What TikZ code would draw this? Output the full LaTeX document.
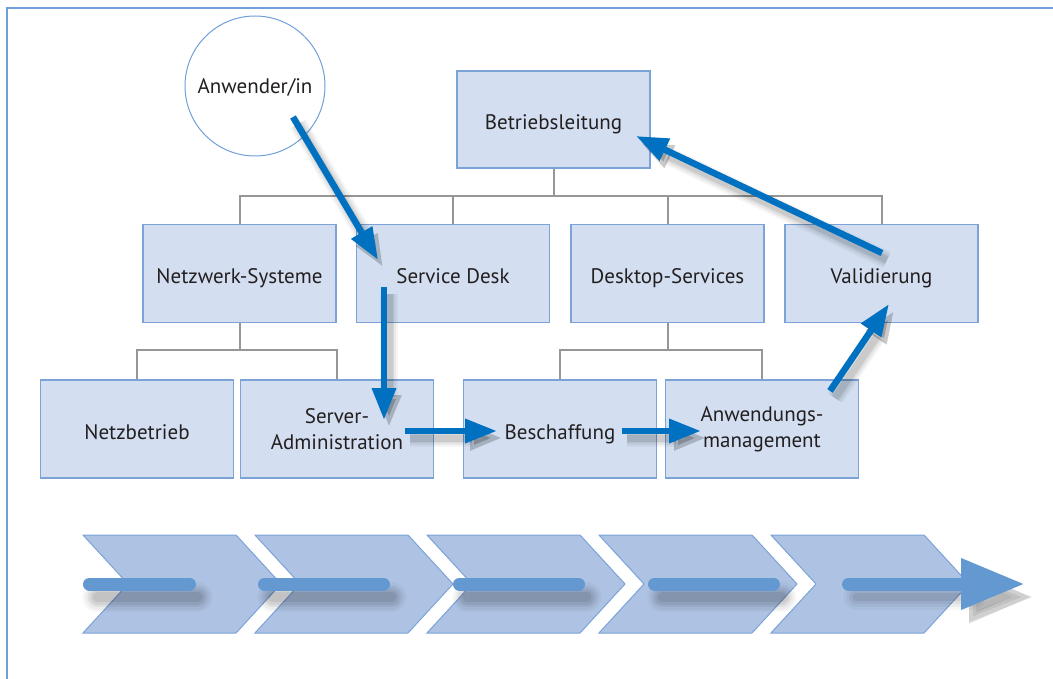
\documentclass[tikz,border=0pt]{standalone}
\usepackage{fontspec}
\setmainfont{PT Sans}
\usetikzlibrary{arrows.meta,calc}
\definecolor{boxfill}{RGB}{211,223,241}
\definecolor{boxline}{RGB}{123,163,216}
\definecolor{arrowblue}{RGB}{0,112,192}
\definecolor{chevfill}{RGB}{174,195,227}
\definecolor{barblue}{RGB}{99,153,208}
\definecolor{orgline}{RGB}{150,150,150}
\definecolor{txt}{RGB}{35,31,32}
\definecolor{frameblue}{RGB}{111,160,220}
\tikzset{
  box/.style={draw=boxline, line width=1.2pt, fill=boxfill, minimum width=193pt,
    minimum height=98pt, inner sep=0pt, align=center, text=txt,
    font=\fontsize{21}{26}\selectfont},
  one/.style={text height=20pt, text depth=0pt},
  org/.style={draw=orgline, line width=2pt},
  flowtip/.style={-{Triangle[length=32pt,width=23pt]}},
  flow/.style={draw=arrowblue, line width=6.5pt, flowtip},
  chev/.style={draw=boxline, line width=1pt, fill=chevfill},
  bar/.style={draw=barblue, line width=13pt, line cap=round},
}
\newcommand\flowarrow[2]{%
  \foreach \w/\o in {18/0.04,14/0.05,10/0.06,7/0.07}{%
    \draw[draw=black, opacity=\o, line width=\w pt, flowtip,
      transform canvas={xshift=5pt,yshift=-7pt}] (#1) -- (#2);}
  \draw[flow] (#1) -- (#2);}
\newcommand\barshadow[2]{%
  \foreach \w/\o in {30/0.03,25/0.04,20/0.05,15/0.06,10/0.07}{%
    \draw[draw=black, opacity=\o, line width=\w pt, line cap=round,
      transform canvas={xshift=8pt,yshift=-13pt}] (#1) -- (#2);}}
\begin{document}
\begin{tikzpicture}[x=1pt,y=-1pt]
\useasboundingbox (0,0) rectangle (1053,679);
\fill[white] (0,0) rectangle (1053,679);
\draw[frameblue, line width=2pt] (7,679) -- (7,8) -- (1053,8);

% circle
\node[circle, draw=frameblue, line width=1pt, minimum size=140pt, inner sep=0pt,
  text=txt, font=\fontsize{21}{26}\selectfont, text height=16pt, text depth=0pt] (anw) at (255,86) {Anwender/in};

% boxes
\node[box, one, minimum height=97pt] (bl) at (553.5,119.5) {Betriebsleitung};
\node[box, one] (ns) at (239.5,273.5) {Netzwerk-Systeme};
\node[box, one] (sd) at (453,273.5) {Service Desk};
\node[box, one] (ds) at (667.5,273.5) {Desktop-Services};
\node[box, one] (va) at (881.5,273.5) {Validierung};
\node[box, one] (nb) at (137,429) {Netzbetrieb};
\node[box] (sa) at (337,429) {Server-\\Administration};
\node[box, one] (be) at (560,429) {Beschaffung};
\node[box] (am) at (762,429) {Anwendungs-\\management};

% org lines
\draw[org] (bl.south) -- ++(0,28);
\draw[org] (ns.north) -- ++(0,-28) -| (va.north);
\draw[org] (sd.north) -- ++(0,-28);
\draw[org] (ds.north) -- ++(0,-28);
\draw[org] (ns.south) -- ++(0,28);
\draw[org] (nb.north) -- ++(0,-29) -| (sa.north);
\draw[org] (ds.south) -- ++(0,28);
\draw[org] (be.north) -- ++(0,-29) -| (am.north);

% flow arrows
\coordinate (f1a) at (293,117); \coordinate (f1b) at (378,260);
\coordinate (f2a) at (384,287); \coordinate (f2b) at (384,420);
\coordinate (f3a) at (405,431); \coordinate (f3b) at (497,431);
\coordinate (f4a) at (622,431); \coordinate (f4b) at (701,431);
\coordinate (f5a) at (830,391); \coordinate (f5b) at (889,304);
\coordinate (f6a) at (882,253); \coordinate (f6b) at (636,136);
\flowarrow{f1a}{f1b}
\flowarrow{f2a}{f2b}
\flowarrow{f3a}{f3b}
\flowarrow{f4a}{f4b}
\flowarrow{f5a}{f5b}
\flowarrow{f6a}{f6b}

% chevrons
\foreach \x in {83,255,427,599,771}{
  \path[chev] (\x,535) -- ++(153,0) -- ++(45,49) -- ++(-45,49) -- ++(-153,0) -- ++(45,-49) -- cycle;
}
% bars
\coordinate (b1a) at (89.5,584);  \coordinate (b1b) at (189.5,584);
\coordinate (b2a) at (264.5,584); \coordinate (b2b) at (383.5,584);
\coordinate (b3a) at (459.5,584); \coordinate (b3b) at (578.5,584);
\coordinate (b4a) at (654.5,584); \coordinate (b4b) at (773.5,584);
\coordinate (b5a) at (848.5,584); \coordinate (b5b) at (1025,584);
\barshadow{b1a}{b1b}
\barshadow{b2a}{b2b}
\barshadow{b3a}{b3b}
\barshadow{b4a}{b4b}
\foreach \w/\o in {26/0.03,20/0.04,14/0.05,8/0.07}{%
  \draw[draw=black, opacity=\o, line width=\w pt, line cap=round, -{Triangle[length=64pt,width=48pt]},
    transform canvas={xshift=8pt,yshift=-13pt}] (b5a) -- (b5b);}
\draw[bar] (b1a) -- (b1b);
\draw[bar] (b2a) -- (b2b);
\draw[bar] (b3a) -- (b3b);
\draw[bar] (b4a) -- (b4b);
\draw[bar, -{Triangle[length=64pt,width=48pt]}] (b5a) -- (b5b);
\end{tikzpicture}
\end{document}
